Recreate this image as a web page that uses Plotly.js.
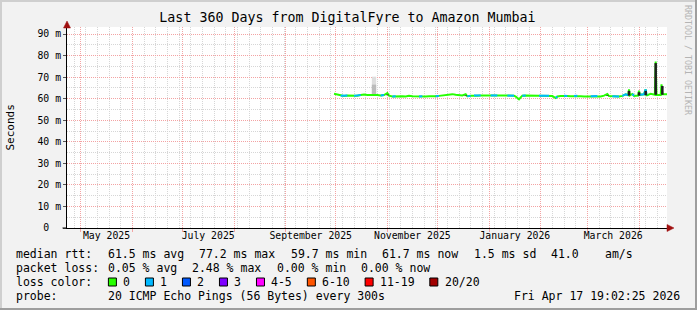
<!DOCTYPE html>
<html><head><meta charset="utf-8">
<script src="https://cdn.plot.ly/plotly-3.0.1.min.js"></script>
<style>
html,body{margin:0;padding:0;background:#F2F2F2;}
#wrap{position:relative;width:697px;height:310px;overflow:hidden;}
#chart{position:absolute;left:0;top:0;width:697px;height:310px;}
.b{position:absolute;pointer-events:none;}
</style>
</head><body>
<div id="wrap"><div id="chart"></div>
<div class="b" style="left:0;top:0;width:697px;height:2px;background:#CFCFCF"></div>
<div class="b" style="left:0;top:0;width:2px;height:310px;background:#CFCFCF"></div>
<div class="b" style="right:0;top:0;width:2px;height:310px;background:#9E9E9E"></div>
<div class="b" style="left:0;bottom:0;width:697px;height:2px;background:#9E9E9E"></div>
</div>
<script>
// ---------- data ----------
const dates = ["2025-09-30","2025-10-02","2025-10-04","2025-10-06","2025-10-08","2025-10-10","2025-10-12","2025-10-14","2025-10-16","2025-10-18",
"2025-10-20","2025-10-22","2025-10-24","2025-10-26","2025-10-28","2025-10-30","2025-11-01","2025-11-02","2025-11-04","2025-11-06",
"2025-11-08","2025-11-10","2025-11-12","2025-11-14","2025-11-16","2025-11-18","2025-11-20","2025-11-22","2025-11-24","2025-11-26",
"2025-11-28","2025-11-30","2025-12-02","2025-12-04","2025-12-06","2025-12-08","2025-12-10","2025-12-12","2025-12-14","2025-12-16",
"2025-12-18","2025-12-19","2025-12-21","2025-12-23","2025-12-25","2025-12-27","2025-12-29","2025-12-31","2026-01-02","2026-01-04",
"2026-01-06","2026-01-08","2026-01-10","2026-01-12","2026-01-14","2026-01-16","2026-01-17","2026-01-18","2026-01-19","2026-01-20",
"2026-01-21","2026-01-23","2026-01-25","2026-01-27","2026-01-29","2026-01-31","2026-02-02","2026-02-04","2026-02-06","2026-02-08",
"2026-02-10","2026-02-11","2026-02-13","2026-02-15","2026-02-17","2026-02-19","2026-02-21","2026-02-23","2026-02-25","2026-02-27",
"2026-03-01","2026-03-03","2026-03-05","2026-03-07","2026-03-09","2026-03-11","2026-03-13","2026-03-14","2026-03-16","2026-03-18",
"2026-03-20","2026-03-22","2026-03-24","2026-03-25 12:00","2026-03-26","2026-03-26 12:00","2026-03-28","2026-03-29","2026-03-31 12:00","2026-04-01",
"2026-04-01 12:00","2026-04-04","2026-04-05","2026-04-05 12:00","2026-04-06","2026-04-08","2026-04-10 12:00","2026-04-11","2026-04-11 12:00","2026-04-14",
"2026-04-14 12:00","2026-04-15","2026-04-15 12:00","2026-04-17 19:00"];
const medianMs = [62.3,62.0,61.4,61.3,61.5,61.4,61.3,61.4,61.7,61.9,
61.7,61.8,61.9,61.7,61.5,61.7,62.6,61.4,61.0,61.1,
61.0,61.1,61.0,61.3,61.1,61.0,61.0,61.1,61.0,61.1,
61.0,61.1,61.3,61.5,61.8,62.2,62.1,61.8,61.6,61.5,
62.1,61.1,61.3,61.5,61.4,61.5,61.5,61.4,61.5,61.4,
61.5,61.6,61.5,61.4,61.5,61.4,61.0,60.2,59.7,60.6,
61.4,61.5,61.5,61.4,61.5,61.4,61.5,61.4,61.3,61.2,
60.3,61.0,61.2,61.3,61.2,61.1,61.2,61.3,61.1,61.0,
61.0,61.1,61.0,61.2,61.0,61.4,62.2,61.2,61.1,61.2,
61.0,61.3,62.0,61.6,64.3,61.5,62.2,61.3,61.4,63.7,
61.8,62.0,64.3,61.6,61.6,62.3,61.8,77.2,61.8,61.7,
66.6,62.0,62.0,62.0];
const lossCount = [0,0,1,1,0,0,1,1,0,0,
0,0,0,0,1,0,0,0,1,0,
0,0,0,0,0,0,1,0,0,0,
0,1,0,0,0,0,0,0,0,0,
0,1,0,1,1,0,0,0,1,1,
0,0,0,1,1,0,0,0,0,0,
1,0,0,0,0,1,1,1,0,0,
1,0,0,1,0,0,1,0,0,0,
0,1,1,0,0,0,0,0,1,1,
0,1,1,0,0,0,1,0,0,0,
1,1,1,0,0,0,0,0,0,0,
0,0,0,0];
// smoke (ping spread)
const lightSmokeDates = ["2025-10-24"];
const lightSmokeLow = [62.0];
const lightSmokeHigh = [70.2];
const midSmokeLow = [62.0];
const midSmokeHigh = [66.5];
const darkSmokeDates = ["2025-11-01","2025-12-18","2026-03-13","2026-03-26","2026-04-01","2026-04-05","2026-04-11","2026-04-15"];
const darkSmokeLow = [61.6,61.2,61.3,61.4,61.4,61.6,61.8,61.8];
const darkSmokeHigh = [62.6,62.2,62.3,64.3,63.7,64.3,77.2,66.6];
// axis labels
const yTickVals = [0,10,20,30,40,50,60,70,80,90];
const yTickText = ["0\u00a0\u00a0","10 m","20 m","30 m","40 m","50 m","60 m","70 m","80 m","90 m"];
const monthLabelVals = ["2025-05-16 12:00","2025-07-16 12:00","2025-09-16","2025-11-16","2026-01-16 12:00","2026-03-16 12:00"];
const monthLabelText = ["May 2025","July 2025","September 2025","November 2025","January 2026","March 2026"];
// legend text
const rttLabel = "median rtt:";
const rttStats = ["61.5 ms avg","77.2 ms max","59.7 ms min","61.7 ms now","1.5 ms sd","41.0","am/s"];
const lossLabel = "packet loss:";
const lossStats = ["0.05 % avg","2.48 % max","0.00 % min","0.00 % now"];
const lossColorLabel = "loss color:";
const lossBins = ["0","1","2","3","4-5","6-10","11-19","20/20"];
const lossColors = ["#26ff00","#00b8ff","#0059ff","#7e00ff","#ff00ff","#ff5500","#ff0000","#a10000"];
const probeLabel = "probe:";
const probeText = "20 ICMP Echo Pings (56 Bytes) every 300s";
const stampText = "Fri Apr 17 19:02:25 2026";
const titleText = "Last 360 Days from DigitalFyre to Amazon Mumbai";
const xStart = "2025-04-22 19:02:25", xEnd = "2026-04-17 19:02:25";

// ---------- layout helpers ----------
const L = 67, T = 27, W = 600, H = 201;
const px = x => (x - L) / W;
const py = y => (T + H - y) / H;
const nb = s => s.replace(/ /g, "\u00a0");
const MONO = "DejaVu Sans Mono";
const DAY = 86400000;

// ---------- traces ----------
const traces = [];
traces.push({type:"bar", x:lightSmokeDates, y:lightSmokeHigh.map((h,i)=>h-lightSmokeLow[i]), base:lightSmokeLow,
  width:2.6*DAY, marker:{color:"#dedede", line:{width:0}}, hoverinfo:"skip"});
traces.push({type:"bar", x:lightSmokeDates, y:midSmokeHigh.map((h,i)=>h-midSmokeLow[i]), base:midSmokeLow,
  width:2.6*DAY, marker:{color:"#bcbcbc", line:{width:0}}, hoverinfo:"skip"});
traces.push({type:"scatter", mode:"lines", x:dates, y:medianMs, line:{color:lossColors[0], width:2}, hoverinfo:"skip"});
// overlay segments where 1 ping was lost
const bx = [], by = [];
let i = 0;
while (i < dates.length) {
  if (lossCount[i] === 1) {
    const start = i;
    while (i < dates.length && lossCount[i] === 1) i++;
    const end = Math.min(i, dates.length - 1);
    for (let k = start; k <= end; k++) { bx.push(dates[k]); by.push(medianMs[k]); }
    bx.push(dates[end]); by.push(null);
  } else i++;
}
traces.push({type:"scatter", mode:"lines", x:bx, y:by, line:{color:lossColors[1], width:2}, connectgaps:false, hoverinfo:"skip"});
// dark smoke: vertical strokes over the rising edges, leaving the coloured tip visible
const sx = [], sy = [];
darkSmokeDates.forEach((d, j) => {
  sx.push(d, d, d); sy.push(darkSmokeLow[j], Math.max(darkSmokeHigh[j] - 0.7, darkSmokeLow[j] + 0.3), null);
});
traces.push({type:"scatter", mode:"lines", x:sx, y:sy, line:{color:"#1e1e1e", width:2.5}, connectgaps:false, hoverinfo:"skip"});
traces.push({type:"scatter", x:[], y:[], xaxis:"x2", hoverinfo:"skip"});

// ---------- annotations ----------
const ann = [];
const txt = (s, x, y, o) => Object.assign({text:nb(s), xref:"paper", yref:"paper", x:px(x), y:py(y), showarrow:false,
  xanchor:"left", yanchor:"middle", borderpad:0, borderwidth:0, font:{family:MONO, size:11.5, color:"#000"}}, o||{});
const CW = 6.92, GAP = 15.4;
ann.push(txt(rttLabel, 16, 254));
let xx = 107.6;
rttStats.forEach(s => {
  if (s === "am/s") xx = 605;
  ann.push(txt(s, xx, 254));
  xx += s.length * CW + GAP;
});
ann.push(txt(lossLabel, 16, 268));
xx = 107.6;
lossStats.forEach(s => { ann.push(txt(s, xx, 268)); xx += s.length * CW + GAP; });
ann.push(txt(lossColorLabel, 16, 282));
const shapes = [];
xx = 108.4;
lossBins.forEach((s, j) => {
  shapes.push({type:"rect", xref:"paper", yref:"paper", x0:px(xx), x1:px(xx+8), y0:py(286), y1:py(278),
    fillcolor:lossColors[j], line:{color:"#000", width:1}});
  ann.push(txt(s, xx + 14.7, 282));
  xx += 14.7 + s.length * CW + GAP;
});
ann.push(txt(probeLabel, 16, 296));
ann.push(txt(probeText, 107.6, 296));
ann.push(txt(stampText, 680, 296, {xanchor:"right"}));
ann.push(txt("Seconds", 10, 127.5, {xanchor:"center", textangle:-90, font:{family:MONO, size:11, color:"#000"}}));
ann.push(txt("RRDTOOL / TOBI OETIKER", 688, 60, {xanchor:"center", textangle:90, font:{family:MONO, size:8.3, color:"#b4b4b4"}}));

shapes.push({type:"path", xref:"paper", yref:"paper", path:`M ${px(67)},${py(21)} L ${px(63.5)},${py(28)} L ${px(70.5)},${py(28)} Z`,
  fillcolor:"#a01010", line:{color:"#a01010", width:0.5}});
shapes.push({type:"path", xref:"paper", yref:"paper", path:`M ${px(674)},${py(228)} L ${px(667)},${py(224.5)} L ${px(667)},${py(231.5)} Z`,
  fillcolor:"#a01010", line:{color:"#a01010", width:0.5}});
shapes.push({type:"line", xref:"paper", yref:"paper", x0:px(62.5), x1:px(67), y0:py(228), y1:py(228), line:{color:"#000", width:1}});

const MG = "#F3A3A3", mg = "#D6D6D6";
const layout = {
  width:697, height:310,
  margin:{l:L, r:697-L-W, t:T, b:310-T-H, pad:0},
  paper_bgcolor:"#F2F2F2", plot_bgcolor:"#FFFFFF",
  showlegend:false, hovermode:false, barmode:"overlay",
  title:{text:titleText, xref:"container", yref:"container", x:347.5/697, y:1-17.5/310, xanchor:"center", yanchor:"middle",
    font:{family:MONO, size:13.3, color:"#000"}},
  xaxis:{type:"date", range:[xStart, xEnd], dtick:"M1", tick0:"2025-05-01", showticklabels:false,
    ticks:"outside", ticklen:3, tickcolor:MG, tickwidth:1,
    showgrid:true, gridcolor:MG, griddash:"1px,1px", gridwidth:1,
    minor:{dtick:7*DAY, tick0:"2025-04-27", showgrid:true, gridcolor:mg, griddash:"1px,1px", gridwidth:1, ticks:""},
    showline:true, linecolor:"#000", linewidth:1, zeroline:false, fixedrange:true},
  xaxis2:{type:"date", overlaying:"x", side:"bottom", anchor:"y", range:[xStart, xEnd], tickmode:"array",
    tickvals:monthLabelVals, ticktext:monthLabelText, ticks:"", showgrid:false, showline:false, zeroline:false,
    tickfont:{family:MONO, size:9.8, color:"#000"}, fixedrange:true},
  yaxis:{range:[0, 93.25], tickmode:"array", tickvals:yTickVals, ticktext:yTickText,
    ticks:"outside", ticklen:3, tickcolor:"#555", tickwidth:1,
    tickfont:{family:MONO, size:9.8, color:"#000"},
    showgrid:true, gridcolor:MG, griddash:"1px,1px", gridwidth:1,
    minor:{dtick:5, tick0:0, showgrid:true, gridcolor:mg, griddash:"1px,1px", gridwidth:1, ticks:""},
    showline:true, linecolor:"#000", linewidth:1, zeroline:false, fixedrange:true},
  annotations:ann, shapes:shapes
};
Plotly.newPlot("chart", traces, layout, {staticPlot:true, displayModeBar:false});
</script>
</body></html>
